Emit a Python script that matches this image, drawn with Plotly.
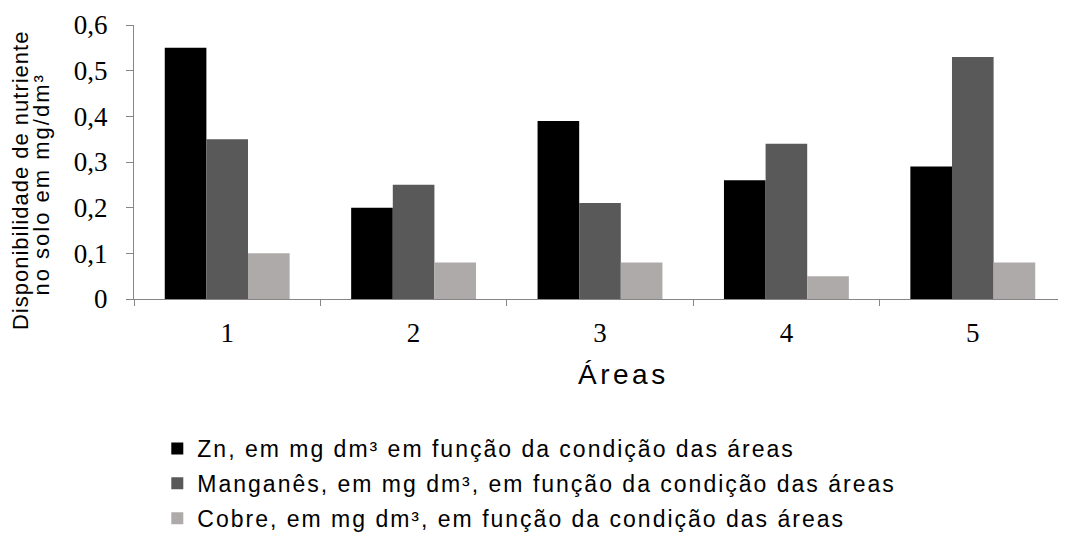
import plotly.graph_objects as go

areas = ["1", "2", "3", "4", "5"]
zn = [0.55, 0.20, 0.39, 0.26, 0.29]
mn = [0.35, 0.25, 0.21, 0.34, 0.53]
cu = [0.10, 0.08, 0.08, 0.05, 0.08]
series_names = [
    "Zn, em mg dm³ em função da condição das áreas",
    "Manganês, em mg dm³, em função da condição das áreas",
    "Cobre, em mg dm³, em função da condição das áreas",
]
colors = ["#000000", "#595959", "#AEAAAA"]
y_ticks = [0, 0.1, 0.2, 0.3, 0.4, 0.5, 0.6]
y_ticktext = ["0", "0,1", "0,2", "0,3", "0,4", "0,5", "0,6"]
y_title_lines = ["Disponibilidade de nutriente", "no solo em mg/dm³"]
x_title = "Áreas"


def spaced(t, px):
    return f'<span style="letter-spacing:{px}px">{t}</span>'


SANS = "Liberation Sans, Arial, sans-serif"
SERIF = "Liberation Serif, Times New Roman, serif"

fig = go.Figure()
for i, (name, vals) in enumerate(zip(series_names, [zn, mn, cu])):
    fig.add_trace(go.Bar(
        x=areas, y=vals, name=spaced(name, 2), legendgroup=f"g{i}",
        marker=dict(color=colors[i], line=dict(width=0)),
    ))

axis_col = "#868686"
fig.update_layout(
    width=1058, height=540,
    paper_bgcolor="white", plot_bgcolor="white",
    margin=dict(l=126, r=0, t=17, b=249, autoexpand=False),
    barmode="group", bargap=0.33, bargroupgap=0,
    showlegend=True,
    legend=dict(
        orientation="v", x=0.025, xanchor="left", y=-0.467, yanchor="top",
        font=dict(family=SANS, size=23, color="#000000"),
        tracegroupgap=2, itemwidth=30, bgcolor="rgba(0,0,0,0)",
    ),
    xaxis=dict(
        type="category", showline=True, linecolor=axis_col, linewidth=1,
        ticks="outside", tickson="boundaries", ticklen=6, tickcolor=axis_col,
        tickfont=dict(family=SERIF, size=27, color="#000000"),
        ticklabelstandoff=10,
        showgrid=False, zeroline=False,
    ),
    yaxis=dict(
        range=[0, 0.6], tickvals=y_ticks, ticktext=y_ticktext,
        showline=True, linecolor=axis_col, linewidth=1,
        ticks="outside", ticklen=7, tickcolor=axis_col,
        tickfont=dict(family=SERIF, size=27, color="#000000"),
        ticklabelstandoff=13,
        showgrid=False, zeroline=False,
    ),
)

# x-axis title
fig.add_annotation(
    text=spaced(x_title, 3.5), xref="paper", yref="paper", x=0.5, y=0,
    xshift=23, yshift=-75, xanchor="center", yanchor="middle",
    showarrow=False, font=dict(family=SANS, size=28, color="#000000"),
)

# two-line rotated y-axis title
for txt, sp, xs, yp in zip(y_title_lines, [1, 2], [-114, -93], [0.434, 0.418]):
    fig.add_annotation(
        text=spaced(txt, sp), xref="paper", yref="paper", x=0, y=yp,
        xshift=xs, xanchor="center", yanchor="middle", textangle=-90,
        showarrow=False, font=dict(family=SANS, size=22, color="#000000"),
    )

fig.write_html("out.html")
